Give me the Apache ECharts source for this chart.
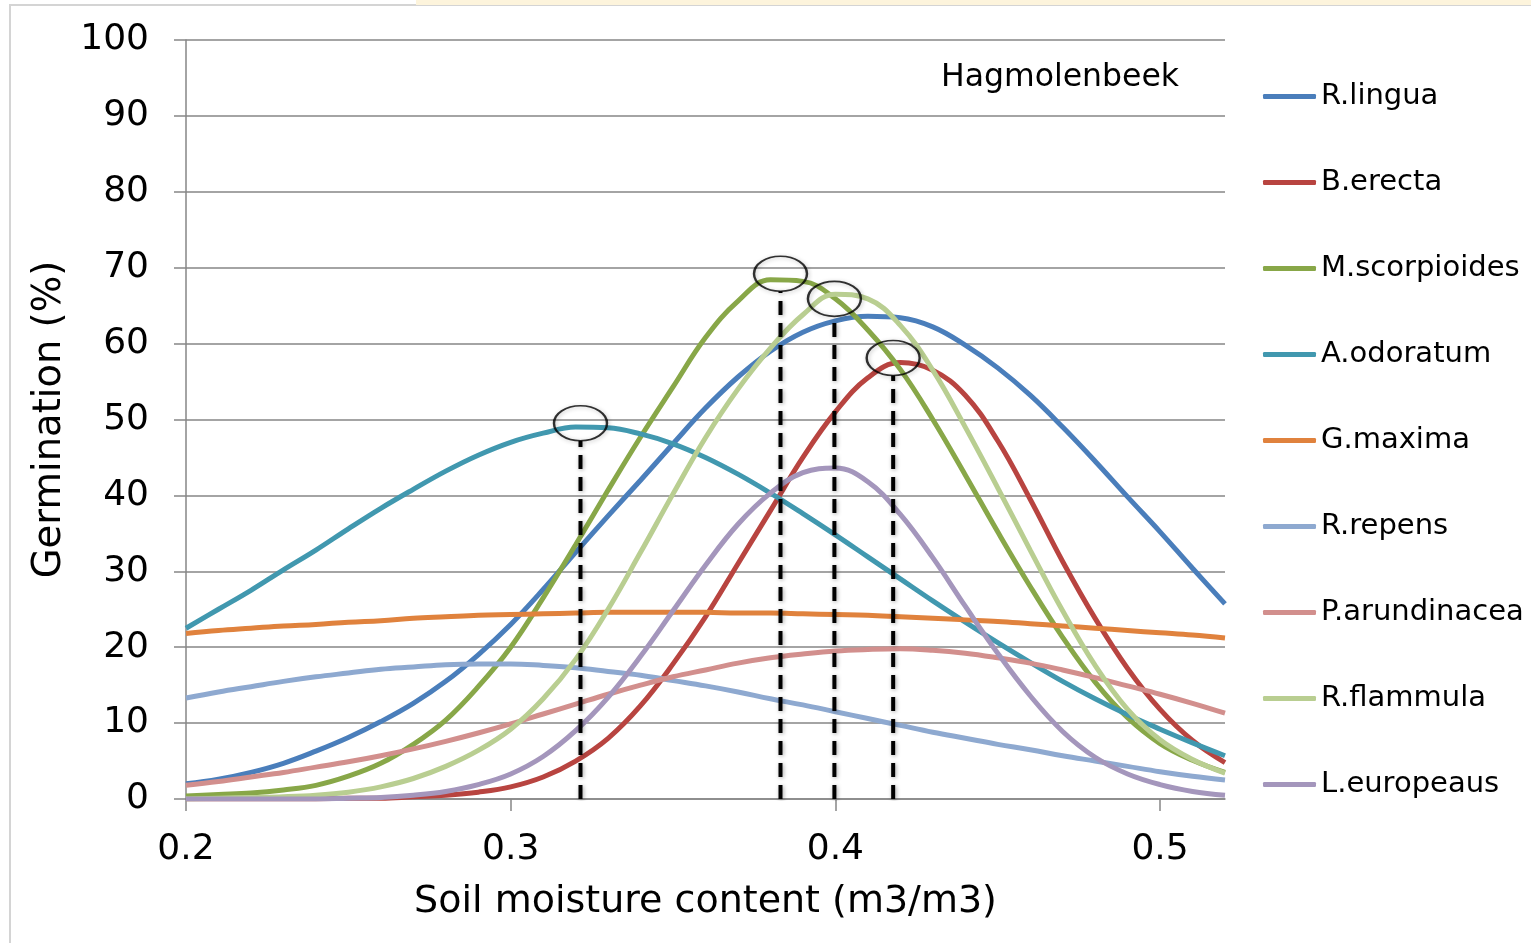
<!DOCTYPE html>
<html>
<head>
<meta charset="utf-8">
<script src="https://cdn.jsdelivr.net/npm/echarts@6/dist/echarts.min.js"></script>
<style>
  html, body { margin: 0; padding: 0; background: #fff; }
  #main { width: 1531px; height: 943px; }
</style>
</head>
<body>
<div id="main"></div>
<script>
var chartDom = document.getElementById('main');
var myChart = echarts.init(chartDom);
var option;

// Soil moisture (m3/m3) at which each curve was read
const moisture = [0.20, 0.21, 0.22, 0.23, 0.24, 0.25, 0.26, 0.27, 0.28, 0.29, 0.30,
                  0.31, 0.32, 0.33, 0.34, 0.35, 0.36, 0.37, 0.38, 0.39, 0.40, 0.41,
                  0.42, 0.43, 0.44, 0.45, 0.46, 0.47, 0.48, 0.49, 0.50, 0.51, 0.52];

// Germination (%) per species
const rLingua      = [2.0, 2.6, 3.5, 4.7, 6.3, 8.1, 10.2, 12.6, 15.5, 19.0, 23.0,
                      27.6, 32.5, 37.3, 42.0, 46.8, 51.5, 55.6, 59.0, 61.5, 63.0, 63.6,
                      63.4, 62.2, 59.8, 56.8, 53.2, 49.0, 44.5, 39.8, 35.2, 30.4, 25.7];
const bErecta      = [0, 0, 0, 0, 0, 0.1, 0.1, 0.3, 0.5, 0.9, 1.6,
                      2.9, 5.0, 8.0, 12.3, 17.8, 24.0, 31.0, 38.0, 45.0, 51.0, 55.5,
                      57.5, 56.5, 53.2, 47.2, 39.5, 31.3, 23.8, 17.2, 11.8, 7.7, 4.8];
const mScorpioides = [0.4, 0.6, 0.8, 1.2, 1.8, 3.0, 4.7, 7.2, 10.4, 14.8, 20.0,
                      26.5, 33.5, 40.7, 47.7, 54.3, 60.8, 65.6, 68.4, 68.2, 65.9, 61.8,
                      56.6, 50.0, 42.7, 35.2, 28.0, 21.3, 15.4, 10.7, 7.3, 5.1, 3.5];
const aOdoratum    = [22.5, 25.0, 27.5, 30.2, 32.8, 35.6, 38.3, 40.8, 43.2, 45.3, 47.0,
                      48.2, 49.0, 48.9, 48.1, 46.8, 45.0, 42.8, 40.3, 37.6, 34.8, 31.9,
                      29.0, 26.1, 23.3, 20.6, 18.0, 15.5, 13.2, 11.1, 9.2, 7.4, 5.7];
const gMaxima      = [21.8, 22.2, 22.5, 22.8, 23.0, 23.3, 23.5, 23.8, 24.0, 24.2, 24.3,
                      24.4, 24.5, 24.6, 24.6, 24.6, 24.6, 24.5, 24.5, 24.4, 24.3, 24.2,
                      24.0, 23.8, 23.6, 23.4, 23.1, 22.8, 22.5, 22.2, 21.9, 21.6, 21.2];
const rRepens      = [13.3, 14.1, 14.8, 15.5, 16.1, 16.6, 17.1, 17.4, 17.7, 17.8, 17.8,
                      17.6, 17.3, 16.8, 16.3, 15.6, 14.9, 14.1, 13.2, 12.4, 11.5, 10.6,
                      9.7, 8.8, 8.0, 7.2, 6.5, 5.7, 5.0, 4.3, 3.6, 3.0, 2.5];
const pArundinacea = [1.8, 2.3, 2.9, 3.5, 4.2, 4.9, 5.7, 6.6, 7.6, 8.7, 9.9,
                      11.2, 12.5, 13.8, 15.0, 16.1, 17.0, 17.9, 18.6, 19.1, 19.5, 19.7,
                      19.8, 19.6, 19.2, 18.6, 17.9, 17.0, 16.0, 14.9, 13.8, 12.6, 11.3];
const rFlammula    = [0, 0.1, 0.2, 0.3, 0.5, 0.9, 1.6, 2.7, 4.3, 6.4, 9.2,
                      13.2, 18.4, 25.0, 32.5, 40.2, 47.6, 54.0, 59.4, 63.8, 66.5, 65.9,
                      62.4, 56.5, 49.0, 41.0, 32.8, 24.8, 17.6, 11.8, 7.8, 5.2, 3.4];
const lEuropeaus   = [0, 0, 0, 0, 0, 0.1, 0.2, 0.5, 1.0, 1.9, 3.3,
                      5.6, 9.0, 13.4, 18.8, 24.8, 30.8, 36.2, 40.3, 43.0, 43.6, 41.8,
                      37.5, 31.8, 25.4, 19.2, 13.6, 8.9, 5.5, 3.3, 1.9, 1.0, 0.5];

const speciesNames = ['R.lingua', 'B.erecta', 'M.scorpioides', 'A.odoratum', 'G.maxima',
                      'R.repens', 'P.arundinacea', 'R.flammula', 'L.europeaus'];
const speciesData = [rLingua, bErecta, mScorpioides, aOdoratum, gMaxima,
                     rRepens, pArundinacea, rFlammula, lEuropeaus];
const speciesColors = ['#4A7EBB', '#B84440', '#88A748', '#4198AF', '#E0823D',
                       '#8EA9D0', '#D28F8D', '#B9CE91', '#A496BC'];

// Marked optima (circled peaks with dashed drop lines)
const optimumMoisture    = [0.3215, 0.3831, 0.3997, 0.4178];
const optimumGermination = [49.5, 69.2, 65.9, 58.1];

const ellipseW = 53, ellipseH = 35;
const pxPerUnit = 759 / 100; // plot height / y range, to stop the drop line at the ellipse

let series = [];

speciesNames.forEach(function (name, i) {
  series.push({
    name: name,
    type: 'line',
    smooth: 0.4,
    symbol: 'none',
    color: speciesColors[i],
    lineStyle: { width: 5, color: speciesColors[i] },
    data: moisture.map(function (x, j) { return [x, speciesData[i][j]]; }),
    z: 3
  });
});

// dashed drop lines from the x axis to each circled peak
optimumMoisture.forEach(function (x, i) {
  series.push({
    type: 'line',
    symbol: 'none',
    silent: true,
    lineStyle: {
      color: '#000', width: 4, type: [14, 8],
      shadowBlur: 4, shadowColor: 'rgba(0,0,0,0.35)', shadowOffsetX: 1, shadowOffsetY: 1
    },
    data: [[x, 0], [x, optimumGermination[i] - (ellipseH / 2) / pxPerUnit]],
    z: 4
  });
});

// the ellipses round the peaks
series.push({
  type: 'scatter',
  silent: true,
  symbol: 'path://M0,50 A50,50 0 1,0 100,50 A50,50 0 1,0 0,50 Z',
  symbolSize: [ellipseW, ellipseH],
  itemStyle: {
    color: 'rgba(0,0,0,0)', borderColor: '#000', borderWidth: 2,
    shadowBlur: 4, shadowColor: 'rgba(0,0,0,0.3)', shadowOffsetX: 1, shadowOffsetY: 1
  },
  data: optimumMoisture.map(function (x, i) { return [x, optimumGermination[i]]; }),
  z: 5
});

option = {
  animation: false,
  textStyle: { fontFamily: 'DejaVu Sans' },
  graphic: [
    { type: 'rect', shape: { x: 10, y: 5, width: 1600, height: 1000 },
      style: { fill: 'none', stroke: '#d4d4d4', lineWidth: 2 }, z: -1 },
    { type: 'rect', shape: { x: 416, y: 0, width: 1115, height: 5 },
      style: { fill: '#fdf4dc' }, z: -1 }
  ],
  title: {
    text: 'Hagmolenbeek',
    left: 941,
    top: 62,
    padding: 0,
    textStyle: { fontFamily: 'DejaVu Sans', fontSize: 31.5, fontWeight: 'normal', color: '#000' }
  },
  legend: {
    data: speciesNames,
    orient: 'vertical',
    left: 1263,
    top: 82,
    padding: 0,
    icon: 'roundRect',
    itemWidth: 53,
    itemHeight: 5,
    itemGap: 57,
    textStyle: { fontFamily: 'DejaVu Sans', fontSize: 29, color: '#000', lineHeight: 29 }
  },
  grid: { left: 186, right: 306, top: 40, bottom: 144 },
  xAxis: {
    type: 'value',
    min: 0.2,
    max: 0.52,
    interval: 0.1,
    name: 'Soil moisture content (m3/m3)',
    nameLocation: 'middle',
    nameGap: 84,
    nameTextStyle: { fontFamily: 'DejaVu Sans', fontSize: 38, color: '#000' },
    axisLine: { show: true, lineStyle: { color: '#868686', width: 1.5 } },
    axisTick: { show: true, length: 12, lineStyle: { color: '#868686', width: 1.5 } },
    axisLabel: {
      fontFamily: 'DejaVu Sans', fontSize: 36, color: '#000', margin: 33,
      showMaxLabel: false
    },
    splitLine: { show: false }
  },
  yAxis: {
    type: 'value',
    min: 0,
    max: 100,
    interval: 10,
    name: 'Germination (%)',
    nameLocation: 'middle',
    nameGap: 116,
    nameTextStyle: { fontFamily: 'DejaVu Sans', fontSize: 38.5, color: '#000' },
    axisLine: { show: true, lineStyle: { color: '#868686', width: 1.5 } },
    axisTick: { show: true, length: 12, lineStyle: { color: '#868686', width: 1.5 } },
    axisLabel: { fontFamily: 'DejaVu Sans', fontSize: 36, color: '#000', margin: 37 },
    splitLine: { show: true, lineStyle: { color: '#868686', width: 1.5 } }
  },
  series: series
};

option && myChart.setOption(option);
</script>
</body>
</html>
